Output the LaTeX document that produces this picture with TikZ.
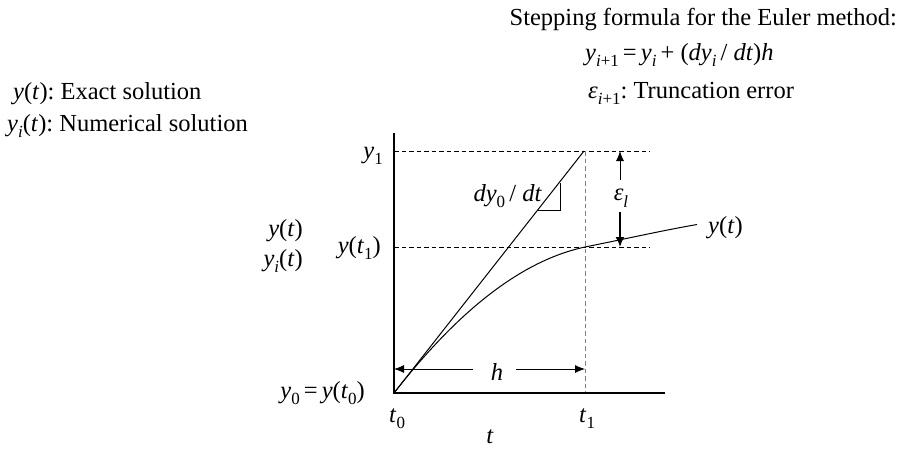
\documentclass[tikz,border=0pt]{standalone}
\usepackage{fontspec}
\setmainfont{Liberation Serif}
\usetikzlibrary{arrows.meta}
\newcommand\iv[1]{\textit{#1}}
\newcommand\sbs[1]{\raisebox{-0.27em}{\fontsize{17}{17}\selectfont #1}}
\begin{document}
\frenchspacing
\begin{tikzpicture}[x=1pt,y=-1pt,
  lbl/.style={font=\fontsize{24.5}{28}\selectfont, inner sep=0pt},
  axisline/.style={line width=1.8pt},
  guide/.style={dash pattern=on 4.5pt off 3pt, line width=0.7pt},
  vguide/.style={dash pattern=on 4.5pt off 3pt, line width=0.9pt, gray},
  thin arrow/.style={line width=0.8pt, -{Latex[length=10pt,width=8pt]}},
  thick arrow/.style={line width=1.6pt, -{Latex[length=10pt,width=9pt]}},
  curveline/.style={line width=1pt}]
\useasboundingbox (0,0) rectangle (898,448);
% coordinates
\coordinate (O) at (394,393);
\coordinate (Ytop) at (394,133);
\coordinate (Xend) at (665,393);
\coordinate (Y1a) at (394,151);
\coordinate (Y1b) at (650,151);
\coordinate (Yt1a) at (394,247);
\coordinate (Yt1b) at (650,247);
\coordinate (P1) at (584,151);
\coordinate (C1) at (585,247);
\coordinate (C2) at (697,224.5);
\coordinate (T1top) at (585,151);
\coordinate (T1bot) at (585,393);
\coordinate (Eup0) at (620,180);
\coordinate (Eup1) at (620,151);
\coordinate (Edn0) at (620,212);
\coordinate (Edn1) at (620,247);
\coordinate (Hl0) at (473,369);
\coordinate (Hl1) at (394,369);
\coordinate (Hr0) at (516,369);
\coordinate (Hr1) at (585,369);
\coordinate (S1) at (560,183);
\coordinate (S2) at (560,210);
\coordinate (S3) at (538,210);
% guides
\draw[guide] (Y1a) -- (Y1b);
\draw[guide] (Yt1a) -- (Yt1b);
\draw[vguide] (T1top) -- (T1bot);
% axes
\draw[axisline] (Ytop) -- (O) -- (Xend);
% tangent and curve
\draw[curveline] (O) -- (P1);
\draw[curveline] (O) .. controls (451,320) and (515,262) .. (C1)
  .. controls (625,239) and (660,231) .. (C2);
% slope triangle
\draw[line width=1pt] (S1) -- (S2) -- (S3);
% arrows
\draw[thin arrow] (Eup0) -- (Eup1);
\draw[thick arrow] (Edn0) -- (Edn1);
\draw[thin arrow] (Hl0) -- (Hl1);
\draw[thin arrow] (Hr0) -- (Hr1);
% texts
\node[lbl, anchor=base east] (title) at (897,25) {Stepping formula for the Euler method:};
\node[lbl, anchor=base west] (formula) at (585,60) {\iv{y}\sbs{\iv{i}+1}\,=\,\iv{y}\sbs{\iv{i}}\,+ (\iv{dy}\sbs{\iv{i}}\,/ \iv{dt})\iv{h}};
\node[lbl, anchor=base west] (trunc) at (588,98) {\iv{ε}\sbs{\iv{i}+1}: Truncation error};
\node[lbl, anchor=base west] (exact) at (13,99) {\iv{y}(\iv{t}): Exact solution};
\node[lbl, anchor=base west] (numer) at (7,131) {\iv{y}\sbs{\iv{i}}(\iv{t}): Numerical solution};
\node[lbl, anchor=base east] (ylab) at (303,236) {\iv{y}(\iv{t})};
\node[lbl, anchor=base east] (yilab) at (303,266) {\iv{y}\sbs{\iv{i}}(\iv{t})};
\node[lbl, anchor=base east] (yt1) at (381,253) {\iv{y}(\iv{t}\sbs{1})};
\node[lbl, anchor=base east] (y1) at (383,158) {\iv{y}\sbs{1}};
\node[lbl, anchor=base east] (y0) at (365,398) {\iv{y}\sbs{0}\,=\,\iv{y}(\iv{t}\sbs{0})};
\node[lbl, anchor=base west] (t0) at (389,422) {\iv{t}\sbs{0}};
\node[lbl, anchor=base west] (t1) at (579,422) {\iv{t}\sbs{1}};
\node[lbl, anchor=base] (t) at (490,443) {\iv{t}};
\node[lbl] (h) at (497,372) {\iv{h}};
\node[lbl, anchor=base east] (slope) at (542,201) {\iv{dy}\sbs{0}\,/ \iv{dt}};
\node[lbl] (eps) at (621,198) {\iv{ε}\sbs{\iv{l}}};
\node[lbl, anchor=base west] (yrt) at (708,233) {\iv{y}(\iv{t})};
\end{tikzpicture}
\end{document}
